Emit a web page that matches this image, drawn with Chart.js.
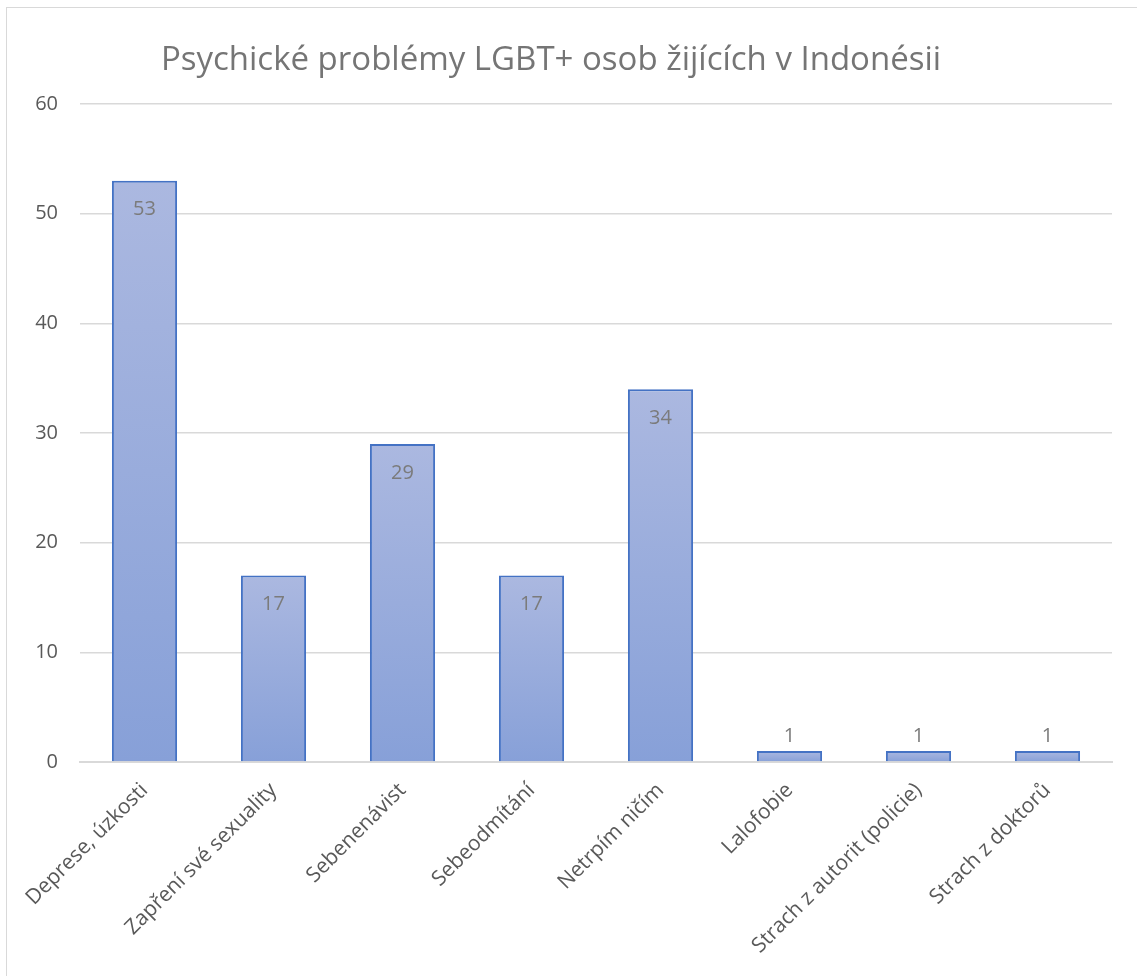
<!DOCTYPE html>
<html>
<head>
<meta charset="utf-8">
<script src="https://cdn.jsdelivr.net/npm/chart.js@4"></script>
<style>
  html, body { margin: 0; padding: 0; background: #fff; }
  #wrap { position: absolute; left: 0; top: 0; width: 1137px; height: 976px; }
  #frame { position: absolute; left: 6px; top: 7px; width: 1200px; height: 1100px; border-left: 1px solid #d9d9d9; border-top: 1px solid #d9d9d9; }
</style>
</head>
<body>
<div id="frame"></div>
<div id="wrap"><canvas id="chart" width="1137" height="976"></canvas></div>
<script>
// data
const titleText = 'Psychické problémy LGBT+ osob žijících v Indonésii';
const categories = ['Deprese, úzkosti', 'Zapření své sexuality', 'Sebenenávist', 'Sebeodmítání',
  'Netrpím ničím', 'Lalofobie', 'Strach z autorit (policie)', 'Strach z doktorů'];
const counts = [53, 17, 29, 17, 34, 1, 1, 1];
const yTicks = [0, 10, 20, 30, 40, 50, 60];

const FONT = '"Open Sans", sans-serif';

// title drawn by hand so it can sit where Excel put it
const titlePlugin = {
  id: 'titleText',
  afterDraw(chart) {
    const c = chart.ctx;
    c.save();
    c.font = '33px ' + FONT;
    c.fillStyle = '#757575';
    c.textAlign = 'center';
    c.textBaseline = 'alphabetic';
    c.fillText(titleText, 551, 70);
    c.restore();
  }
};

// value labels: inside the top of tall bars, above the tiny ones
const valueLabels = {
  id: 'valueLabels',
  afterDatasetsDraw(chart) {
    const c = chart.ctx;
    const meta = chart.getDatasetMeta(0);
    c.save();
    c.font = '20px ' + FONT;
    c.fillStyle = '#7b7b7b';
    c.textAlign = 'center';
    c.textBaseline = 'middle';
    meta.data.forEach((bar, i) => {
      const v = counts[i];
      const h = bar.base - bar.y;
      const y = h > 40 ? bar.y + 29 : bar.y - 15;
      c.fillText(String(v), bar.x, y);
    });
    c.restore();
  }
};

function barGradient(ctx) {
  const chart = ctx.chart;
  if (ctx.type !== 'data' || !chart.scales.y) return '#98abdc';
  const y = chart.scales.y;
  const top = y.getPixelForValue(ctx.raw);
  const bottom = y.getPixelForValue(0);
  if (!isFinite(top) || !isFinite(bottom) || top === bottom) return '#98abdc';
  const g = chart.ctx.createLinearGradient(0, top, 0, bottom);
  g.addColorStop(0, '#abb8e0');
  g.addColorStop(1, '#87a0d8');
  return g;
}

new Chart(document.getElementById('chart'), {
  type: 'bar',
  data: {
    labels: categories,
    datasets: [{
      data: counts,
      backgroundColor: barGradient,
      borderColor: '#4472c4',
      borderWidth: 2,
      borderSkipped: 'bottom',
      categoryPercentage: 1,
      barPercentage: 0.505
    }]
  },
  options: {
    responsive: false,
    animation: false,
    layout: { padding: { top: 104, right: 25, bottom: 0, left: 0 } },
    plugins: {
      legend: { display: false },
      tooltip: { enabled: false },
      title: { display: false }
    },
    scales: {
      y: {
        min: 0,
        max: 60,
        afterBuildTicks: s => { s.ticks = yTicks.map(v => ({ value: v })); },
        afterFit: s => { s.width = 80; },
        border: { display: false },
        grid: { color: '#d9d9d9', lineWidth: 1.5, drawTicks: false },
        ticks: { color: '#595959', font: { family: FONT, size: 20 }, padding: 22 }
      },
      x: {
        afterFit: s => { s.height = 214; },
        border: { color: '#d9d9d9', width: 2 },
        grid: { display: false },
        ticks: {
          color: '#595959',
          font: { family: FONT, size: 21 },
          minRotation: 45,
          maxRotation: 45,
          autoSkip: false,
          padding: 8
        }
      }
    }
  },
  plugins: [titlePlugin, valueLabels]
});
</script>
</body>
</html>
